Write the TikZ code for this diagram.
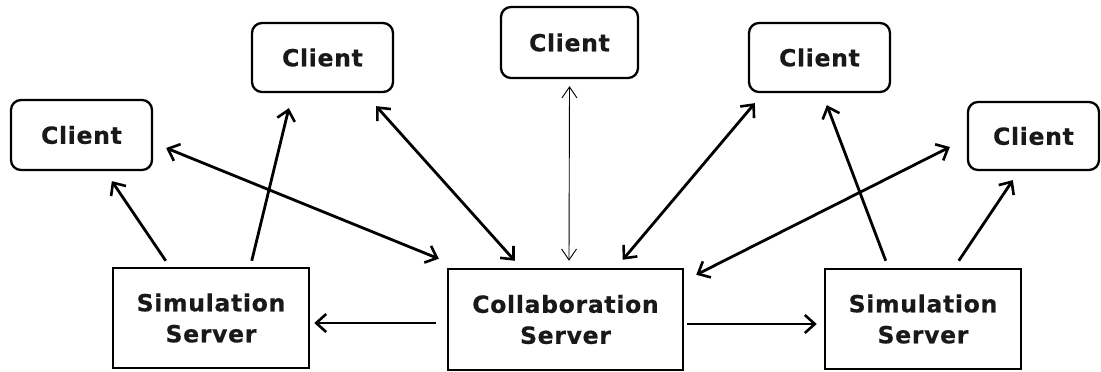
\documentclass[tikz,border=0pt]{standalone}
\usepackage{fontspec}
\setmainfont{DejaVu Sans}[BoldFont={DejaVu Sans Bold}, BoldFeatures={FakeBold=0.6, LetterSpace=3}]
\usetikzlibrary{arrows.meta,calc}
\tikzset{
  lbl/.style={font=\bfseries\fontsize{23.5}{31}\selectfont, text=black!90, align=center, inner sep=0pt},
  client/.style={lbl, draw, line width=2.3pt, rounded corners=10pt},
  server/.style={lbl, draw, line width=2.5pt},
  barb/.style={Straight Barb[length=10pt,width=18pt,line width=2.6pt]},
  link/.style={line width=2.8pt, -{Straight Barb[length=10pt,width=18pt,line width=2.6pt]}},
  duplex/.style={line width=2.8pt, {Straight Barb[length=10pt,width=18pt,line width=2.6pt]}-{Straight Barb[length=10pt,width=18pt,line width=2.6pt]}},
  thinduplex/.style={line width=0.9pt, {Straight Barb[length=11pt,width=15pt,line width=0.9pt]}-{Straight Barb[length=11pt,width=15pt,line width=0.9pt]}}
}
\begin{document}
\begin{tikzpicture}[x=1pt,y=-1pt]
  \useasboundingbox (0,0) rectangle (1101,372);

  % clients
  \node[client, minimum width=141pt, minimum height=70pt] (c1) at (81.5,135) {Client};
  \node[client, minimum width=141pt, minimum height=69pt] (c2) at (322.5,57.5) {Client};
  \node[client, minimum width=137pt, minimum height=71pt] (c3) at (569.5,42.5) {Client};
  \node[client, minimum width=141pt, minimum height=69pt] (c4) at (819.5,57.5) {Client};
  \node[client, minimum width=131pt, minimum height=68pt] (c5) at (1033.5,136) {Client};

  % servers
  \node[server, minimum width=196pt, minimum height=100pt] (s1) at (211,318) {Simulation\\Server};
  \node[server, minimum width=235pt, minimum height=101pt] (cs) at (565.5,319.5) {Collaboration\\Server};
  \node[server, minimum width=196pt, minimum height=100pt] (s2) at (923,319) {Simulation\\Server};

  % left simulation server to its clients
  \draw[link] ($(s1.north west)+(54,-6)$) -- ($(c1.south west)+(102,10)$);
  \draw[link] ($(s1.north west)+(140,-6)$) -- ($(c2.south west)+(38,15)$);

  % collaboration server and the clients
  \draw[duplex] ($(c1.east)+(13,13)$) -- ($(cs.north west)+(-8,-9)$);
  \draw[duplex] ($(c2.south east)+(-18,13)$) -- ($(cs.north west)+(68,-7)$);
  \draw[thinduplex] ($(c3.south)+(0,7)$) -- ($(cs.north)+(3.5,-7)$);
  \draw[duplex] ($(c4.south west)+(7,10)$) -- ($(cs.north west)+(176,-8)$);
  \draw[duplex] ($(c5.west)+(-17,11)$) -- ($(cs.north east)+(12,7)$);

  % right simulation server to its clients
  \draw[link] ($(s2.north west)+(62,-7)$) -- ($(c4.south west)+(79,12)$);
  \draw[link] ($(s2.north west)+(135,-7)$) -- ($(c5.south west)+(46,9)$);

  % collaboration server to both simulation servers
  \draw[link] ($(cs.west)+(-11,3.5)$) -- ($(s1.east)+(4,5)$);
  \draw[link] ($(cs.east)+(3,4.5)$) -- ($(s2.west)+(-7,5)$);
\end{tikzpicture}
\end{document}
